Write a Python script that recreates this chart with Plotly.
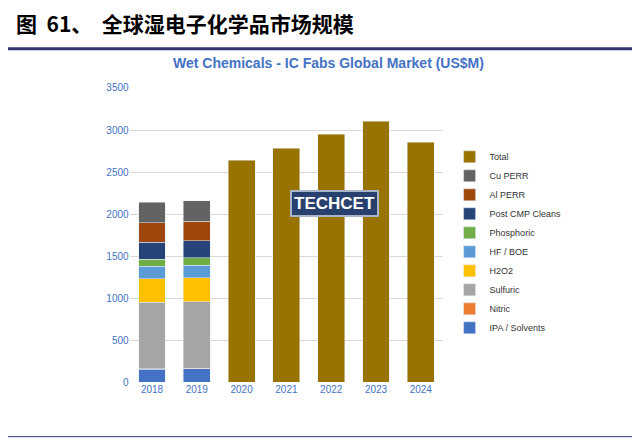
import plotly.graph_objects as go

years = ["2018", "2019", "2020", "2021", "2022", "2023", "2024"]
series = [
    ("IPA / Solvents", [155, 160], "#4472C4"),
    ("Nitric", [5, 5], "#ED7D31"),
    ("Sulfuric", [790, 795], "#A5A5A5"),
    ("H2O2", [280, 285], "#FFC000"),
    ("HF / BOE", [150, 150], "#5B9BD5"),
    ("Phosphoric", [85, 85], "#70AD47"),
    ("Post CMP Cleans", [200, 205], "#264478"),
    ("Al PERR", [230, 230], "#9E480E"),
    ("Cu PERR", [245, 245], "#636363"),
]
total = [2640, 2785, 2950, 3105, 2855]

fig = go.Figure()
for name, vals, col in series:
    fig.add_bar(x=years[:2], y=vals, name=name, marker_color=col, width=0.6)
fig.add_bar(x=years[2:], y=total, name="Total", marker_color="#997300", width=0.6)

fig.update_layout(
    barmode="stack", width=640, height=441, paper_bgcolor="white", plot_bgcolor="white",
    margin=dict(l=0, r=0, t=0, b=0),
    xaxis=dict(domain=[0.19, 0.68], tickfont=dict(size=10, color="#4472C4", family="Liberation Sans"), showline=False),
    yaxis=dict(domain=[0.143, 0.826], range=[0, 3500], dtick=500, gridcolor="#D9D9D9",
               tickfont=dict(size=10, color="#4472C4", family="Liberation Sans"), zeroline=False),
    legend=dict(x=0.69, y=0.70, yanchor="top", traceorder="reversed", font=dict(size=9, color="#333", family="Liberation Sans"),
                itemwidth=30, tracegroupgap=0, bgcolor="rgba(0,0,0,0)"),
    shapes=[
        dict(type="line", xref="paper", yref="paper", x0=0.0, x1=0.99, y0=0.917, y1=0.917, line=dict(color="#2F3573", width=3)),
        dict(type="line", xref="paper", yref="paper", x0=0.0, x1=0.99, y0=0.017, y1=0.017, line=dict(color="#2F3573", width=1)),
    ],
    annotations=[
        dict(text="<b>图  61、  全球湿电子化学品市场规模</b>", xref="paper", yref="paper", x=0.01, y=0.977, xanchor="left",
             yanchor="middle", showarrow=False, font=dict(size=21, color="black", family="Noto Sans CJK SC")),
        dict(text="<b>Wet Chemicals - IC Fabs Global Market (US$M)</b>", xref="paper", yref="paper", x=0.5, y=0.884,
             yanchor="middle", showarrow=False, font=dict(size=14, color="#4472C4", family="Liberation Sans")),
        dict(text="<b>TECHCET</b>", xref="paper", yref="paper", x=0.51, y=0.559, showarrow=False,
             font=dict(size=17, color="white", family="Liberation Sans"), bgcolor="#27406E",
             bordercolor="#AAB4C8", borderwidth=2, borderpad=2),
    ],
)
fig.write_html("out.html")
